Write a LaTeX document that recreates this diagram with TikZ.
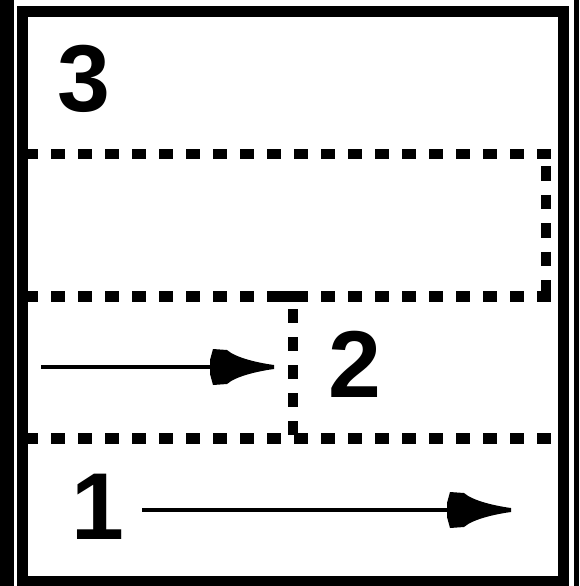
\documentclass[tikz,border=0pt]{standalone}
\usepackage{fontspec}
\setmainfont{Liberation Sans}
\usetikzlibrary{arrows.meta}
\pgfdeclarearrow{
  name=Dart,
  setup code={
    \pgfarrowssettipend{0pt}
    \pgfarrowssetlineend{-40pt}
    \pgfarrowssetbackend{-64pt}
    \pgfarrowsupperhullpoint{-64pt}{18pt}
    \pgfarrowsupperhullpoint{0pt}{0pt}
  },
  drawing code={
    \pgfpathmoveto{\pgfqpoint{0pt}{2pt}}
    \pgfpathcurveto{\pgfqpoint{-15pt}{4pt}}{\pgfqpoint{-38pt}{9pt}}{\pgfqpoint{-47pt}{17pt}}
    \pgfpathlineto{\pgfqpoint{-61pt}{18pt}}
    \pgfpathlineto{\pgfqpoint{-64pt}{7pt}}
    \pgfpathlineto{\pgfqpoint{-64pt}{-7pt}}
    \pgfpathlineto{\pgfqpoint{-61pt}{-18pt}}
    \pgfpathlineto{\pgfqpoint{-47pt}{-17pt}}
    \pgfpathcurveto{\pgfqpoint{-38pt}{-9pt}}{\pgfqpoint{-15pt}{-4pt}}{\pgfqpoint{0pt}{-2pt}}
    \pgfpathclose
    \pgfusepathqfill
  }
}
\tikzset{
  digit/.style={inner sep=0pt, font=\fontsize{95}{95}\selectfont\bfseries},
  frameline/.style={line width=11pt, line join=miter},
  hdots/.style={line width=10.5pt, dash pattern=on 14pt off 13pt},
  conn/.style={line width=3.8pt, -{Dart}}
}
\begin{document}
\begin{tikzpicture}[x=1pt,y=-1pt]
\useasboundingbox (0,0) rectangle (579,586);
\fill[white] (0,0) rectangle (579,586);
% outer strips and frame
\fill[black] (0,0) rectangle (14,586);
\fill[black] (574,0) rectangle (579,586);
\draw[frameline] (22.5,11.5) rectangle (563,581.5);
% dashed separators
\draw[hdots] (24,154) -- (551,154);
\draw[hdots] (24,296.5) -- (551,296.5);
\draw[hdots] (24,438.5) -- (551,438.5);
\draw[line width=10pt, dash pattern=on 14.5pt off 14pt, dash phase=11.5pt] (546,149) -- (546,302);
\draw[line width=10pt, dash pattern=on 14pt off 14pt, dash phase=10pt] (293,291) -- (293,438);
\fill[black] (281,291) rectangle (294,302);
% labels
\node[digit] (n3) at (84,79) {3};
\node[digit] (n2) at (355,364) {2};
\node[digit] (n1) at (98,506.5) {1};
% arrows
\coordinate (a2s) at (41,367);
\coordinate (a2e) at (274,367);
\coordinate (a1s) at (142,510);
\coordinate (a1e) at (511,510);
\draw[conn] (a2s) -- (a2e);
\draw[conn] (a1s) -- (a1e);
\end{tikzpicture}
\end{document}
